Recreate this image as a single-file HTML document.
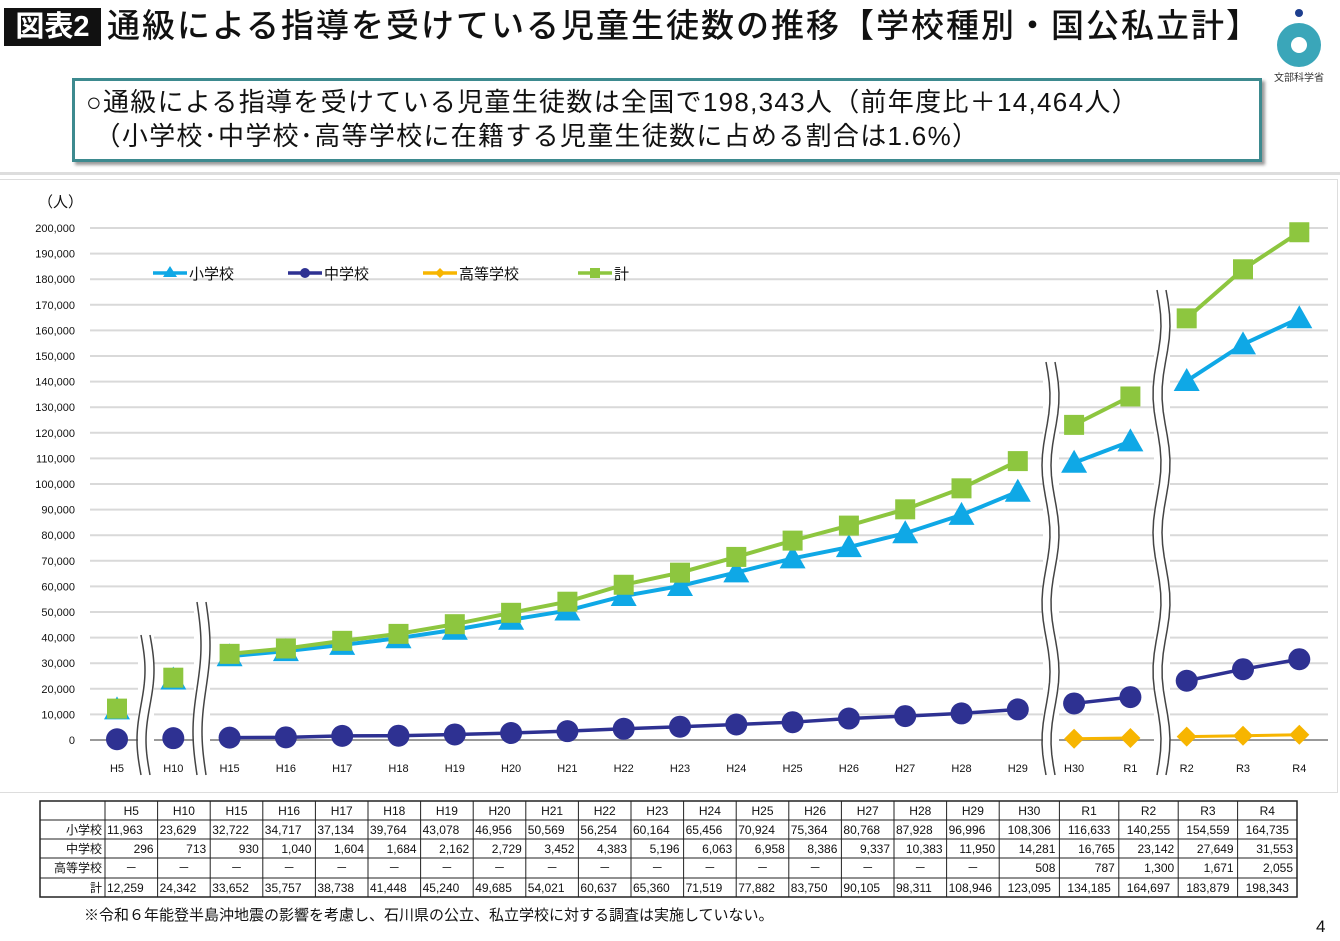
<!DOCTYPE html>
<html><head><meta charset="utf-8">
<style>
body{margin:0;width:1340px;height:941px;background:#fff;overflow:hidden;position:relative;font-family:"Liberation Sans","Noto Sans CJK JP",sans-serif}
.abs{position:absolute}
</style></head><body>
<div class="abs" style="left:4px;top:8px;width:97px;height:38px;background:#111;color:#fff;font-size:29px;line-height:38px;text-align:center;font-weight:bold">図表2</div>
<div class="abs" style="left:107px;top:4px;font-size:33px;line-height:44px;color:#111;white-space:nowrap;letter-spacing:2px;font-weight:500">通級による指導を受けている児童生徒数の推移【学校種別・国公私立計】</div>
<svg class="abs" style="left:1270px;top:5px" width="70" height="80">
<circle cx="29" cy="8" r="4" fill="#1e3f8f"/>
<circle cx="29" cy="40" r="22" fill="#3aa6b9"/>
<circle cx="29" cy="40" r="8" fill="#fff"/>
<text x="29" y="76" font-size="10" text-anchor="middle" fill="#333" font-family="Noto Sans CJK JP">文部科学省</text>
</svg>
<div class="abs" style="left:72px;top:78px;width:1184px;height:78px;border:3px solid #3d8a8f;box-shadow:3px 3px 3px #999;background:#fff"></div>
<div class="abs" style="left:86px;top:85px;font-size:26px;line-height:34px;color:#111;white-space:nowrap;letter-spacing:1.3px">○通級による指導を受けている児童生徒数は全国で198,343人（前年度比＋14,464人）<br>&nbsp;（小学校･中学校･高等学校に在籍する児童生徒数に占める割合は1.6%）</div>
<div class="abs" style="left:0;top:172px;width:1340px;height:3px;background:#ddd"></div>
<div class="abs" style="left:-2px;top:179px;width:1338px;height:612px;border:1px solid #ddd"></div>
<svg id="ch" class="abs" style="left:0;top:0" width="1340" height="941"></svg>
<div class="abs" style="left:84px;top:904px;font-size:15px;color:#111;white-space:nowrap">※令和６年能登半島沖地震の影響を考慮し、石川県の公立、私立学校に対する調査は実施していない。</div>
<div class="abs" style="left:1316px;top:917px;font-size:17px;color:#111">4</div>
<script>
const L=['H5','H10','H15','H16','H17','H18','H19','H20','H21','H22','H23','H24','H25','H26','H27','H28','H29','H30','R1','R2','R3','R4'];
const E=[11963,23629,32722,34717,37134,39764,43078,46956,50569,56254,60164,65456,70924,75364,80768,87928,96996,108306,116633,140255,154559,164735];
const J=[296,713,930,1040,1604,1684,2162,2729,3452,4383,5196,6063,6958,8386,9337,10383,11950,14281,16765,23142,27649,31553];
const Hs=[null,null,null,null,null,null,null,null,null,null,null,null,null,null,null,null,null,508,787,1300,1671,2055];
const T=[12259,24342,33652,35757,38738,41448,45240,49685,54021,60637,65360,71519,77882,83750,90105,98311,108946,123095,134185,164697,183879,198343];
const X=i=>117+i*56.3, Y=v=>740-v*0.00256;
let s='';
s+='<text x="38" y="207" font-size="15" fill="#111" font-family="Noto Sans CJK JP">（人）</text>';
for(let v=0;v<=200000;v+=10000){const y=Y(v);
 s+=`<line x1="90" x2="1328" y1="${y}" y2="${y}" stroke="${v?'#d9d9d9':'#999'}" stroke-width="2"/>`;
 s+=`<text x="75" y="${y+4}" font-size="11" text-anchor="end" fill="#111">${v.toLocaleString('en-US')}</text>`;}
L.forEach((l,i)=>s+=`<text x="${X(i)}" y="772" font-size="11" text-anchor="middle" fill="#111">${l}</text>`);
const groups=[[0],[1],[2,3,4,5,6,7,8,9,10,11,12,13,14,15,16],[17,18],[19,20,21]];
function series(d,col,w,mk){
 groups.forEach(g=>{const p=g.filter(i=>d[i]!=null).map(i=>X(i)+','+Y(d[i]));if(p.length>1)s+=`<polyline points="${p.join(' ')}" fill="none" stroke="${col}" stroke-width="${w}"/>`;});
 d.forEach((v,i)=>{if(v!=null)s+=mk(X(i),Y(v));});}
series(Hs,'#f7b500',3,(x,y)=>`<polygon points="${x},${y-10} ${x+10},${y} ${x},${y+10} ${x-10},${y}" fill="#f7b500"/>`);
series(J,'#2e3192',3.5,(x,y)=>`<circle cx="${x}" cy="${y}" r="11" fill="#2e3192"/>`);
series(E,'#0fa8e6',4,(x,y)=>`<polygon points="${x},${y-13} ${x+13},${y+10} ${x-13},${y+10}" fill="#0fa8e6"/>`);
series(T,'#8dc63f',4,(x,y)=>`<rect x="${x-10}" y="${y-10}" width="20" height="20" fill="#8dc63f"/>`);
const lg=[[153,'#0fa8e6','小学校','t'],[288,'#2e3192','中学校','c'],[423,'#f7b500','高等学校','d'],[578,'#8dc63f','計','s']];
lg.forEach(([x,c,t,m])=>{s+=`<line x1="${x}" x2="${x+34}" y1="273" y2="273" stroke="${c}" stroke-width="3.5"/>`;const cx=x+17;
 if(m=='t')s+=`<polygon points="${cx},266 ${cx+7},277 ${cx-7},277" fill="${c}"/>`;
 if(m=='c')s+=`<circle cx="${cx}" cy="273" r="5" fill="${c}"/>`;
 if(m=='d')s+=`<polygon points="${cx},268 ${cx+5},273 ${cx},278 ${cx-5},273" fill="${c}"/>`;
 if(m=='s')s+=`<rect x="${cx-5}" y="268" width="10" height="10" fill="${c}"/>`;
 s+=`<text x="${x+36}" y="279" font-size="15" fill="#111" font-family="Noto Sans CJK JP">${t}</text>`;});
function brk(x,y1,y2){let d1='',d2='';const n=Math.round((y2-y1)/70)*2||2;
 for(let k=0;k<=40;k++){const y=y1+(y2-y1)*k/40;const dx=4*Math.sin(k/40*Math.PI*n/2);d1+=(k?'L':'M')+(x-4+dx)+','+y;d2+=(k?'L':'M')+(x+5+dx)+','+y;}
 s+=`<rect x="${x-7}" y="${y1}" width="16" height="${y2-y1}" fill="#fff"/><path d="${d1}" stroke="#444" fill="none" stroke-width="1.5"/><path d="${d2}" stroke="#444" fill="none" stroke-width="1.5"/>`;}
brk(145,635,775);brk(201,602,775);brk(1050,362,775);brk(1161,290,775);
let cx=[40,105];for(let i=0;i<17;i++)cx.push(105+52.6*(i+1));for(let i=0;i<5;i++)cx.push(1000+59.4*(i+1));
const ry=[801,820,839,858,878,897];
s+=`<rect x="40" y="801" width="1257" height="96" fill="#fff" stroke="#222" stroke-width="1.5"/>`;
ry.slice(1,5).forEach(y=>s+=`<line x1="40" x2="1297" y1="${y}" y2="${y}" stroke="#222" stroke-width="1"/>`);
cx.slice(1,-1).forEach(x=>s+=`<line x1="${x}" x2="${x}" y1="801" y2="897" stroke="#222" stroke-width="1"/>`);
const f=v=>v==null?'－':v.toLocaleString('en-US');
const rows=[['',L],['小学校',E],['中学校',J],['高等学校',Hs],['計',T]];
rows.forEach(([h,d],r)=>{const y=ry[r]+14;
 s+=`<text x="102" y="${y}" font-size="12" text-anchor="end" fill="#111" font-family="Noto Sans CJK JP">${h}</text>`;
 d.forEach((v,i)=>{const a=cx[i+1],b=cx[i+2];let t=r==0?v:f(v);
  if(r==0||v==null||(i>=17&&(r==1||r==4)))s+=`<text x="${(a+b)/2}" y="${y}" font-size="12" text-anchor="middle" fill="#111">${t}</text>`;
  else if(r==4||r==1)s+=`<text x="${a+2}" y="${y}" font-size="12" fill="#111">${t}</text>`;
  else s+=`<text x="${b-4}" y="${y}" font-size="12" text-anchor="end" fill="#111">${t}</text>`;});});
document.getElementById('ch').innerHTML=s;
</script>
</body></html>
